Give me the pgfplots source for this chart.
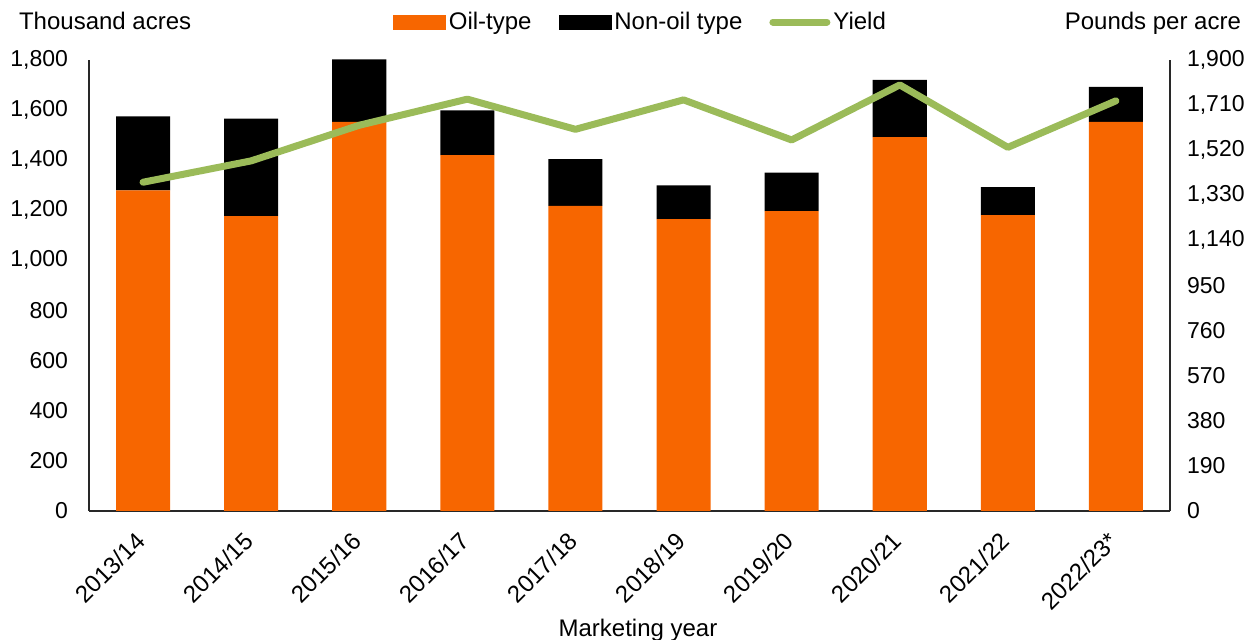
\documentclass[border=0pt]{standalone}
\usepackage{fontspec}
\setmainfont{Liberation Sans}
\usepackage{pgfplots}
\pgfplotsset{compat=1.18}
\usepackage{pgfplotstable}
\definecolor{oil}{RGB}{247,102,0}
\definecolor{yieldgreen}{RGB}{155,187,89}
\definecolor{axisgray}{RGB}{40,40,40}

\pgfplotstableread{
x oil nonoil yield
0 1280 295 1385
1 1177 389 1475
2 1553 249 1625
3 1420 179 1735
4 1218 186 1608
5 1165 135 1732
6 1197 153 1563
7 1492 229 1795
8 1181 112 1532
9 1553 140 1728
}\data

\newcommand{\lbl}{\fontsize{12}{14.4}\selectfont}
\newcommand{\tlbl}{\fontsize{11.5}{13.8}\selectfont}

\pgfplotsset{
  common/.style={
    width=540.5pt, height=225.5pt, scale only axis,
    at={(0,0)}, anchor=south west,
    xmin=-0.5, xmax=9.5,
    major tick length=0pt,
    axis line style={line width=0.8pt, axisgray},
    tick label style={font=\tlbl},
    /pgf/number format/.cd, 1000 sep={,}, assume math mode=true,
  },
}

\begin{document}
\begin{tikzpicture}
\useasboundingbox (-44.5pt,-64.5pt) rectangle (580.5pt,255.5pt);
\begin{axis}[common,
  ymin=0, ymax=1800, ytick={0,200,...,1800},
  axis x line*=bottom, axis y line*=left,
  ybar stacked, bar width=0.5,
  xtick={0,...,9},
  xticklabels={2013/14,2014/15,2015/16,2016/17,2017/18,2018/19,2019/20,2020/21,2021/22,2022/23*},
  xticklabel style={font=\lbl, xshift=1.2pt, yshift=-10.5pt, rotate=45, anchor=east},
  yticklabel style={xshift=-7pt},
]
\addplot[fill=oil, draw=none] table[x=x, y=oil]{\data};
\addplot[fill=black, draw=none] table[x=x, y=nonoil]{\data};
\end{axis}
\begin{axis}[common,
  ymin=0, ymax=1900, ytick={0,190,...,1900},
  axis y line*=right, axis x line=none,
  yticklabel style={xshift=5pt},
  legend style={at={(0.5106,1.084)}, anchor=center, draw=none, fill=none,
    legend columns=3, font=\lbl, nodes={inner xsep=1.5pt},
    /tikz/every even column/.append style={column sep=12pt}},
]
\addlegendimage{legend image code/.code={\fill[oil] (0pt,-3.5pt) rectangle (26pt,3.5pt);}}
\addlegendentry{Oil-type}
\addlegendimage{legend image code/.code={\fill[black] (0pt,-3.5pt) rectangle (26pt,3.5pt);}}
\addlegendentry{Non-oil type}
\addplot[yieldgreen, line width=3.5pt, line join=round, line cap=round,
  legend image code/.code={\draw[yieldgreen, line width=3.5pt] (0pt,0pt) -- (27pt,0pt);}]
  table[x=x, y=yield]{\data};
\addlegendentry{Yield}
\end{axis}
\node[anchor=base west, font=\lbl] at (-38.5pt,240.5pt) {Thousand acres};
\node[anchor=base east, font=\lbl] at (579.5pt,240.5pt) {Pounds per acre};
\node[anchor=base, font=\lbl] at (274.5pt,-63pt) {Marketing year};
\node[anchor=base west, font=\lbl] at (-30.5pt,-74pt) {Note: Asterisk (*) denotes forecast.};
\end{tikzpicture}
\end{document}
